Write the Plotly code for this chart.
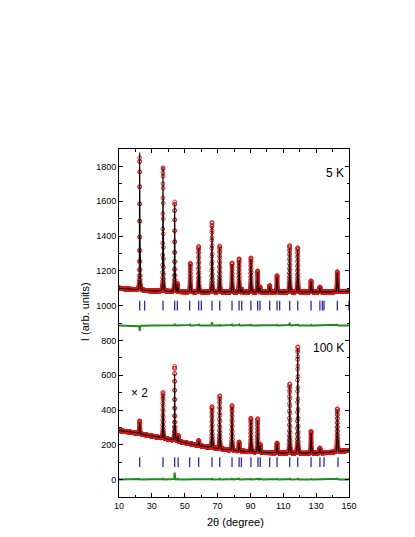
import numpy as np
import plotly.graph_objects as go

# ---------------- data ----------------
# 5 K pattern: peak positions (2theta), observed and calculated peak heights above background
peak_pos_5k = [22.6, 36.8, 43.9, 45.6, 53.4, 58.5, 66.6, 71.3, 78.8, 83.1, 84.7, 90.3, 94.4, 95.8,
               101.7, 106.2, 113.9, 118.8, 126.9, 132.3, 142.9]
obs_h_5k = [760, 712, 515, 45, 165, 262, 400, 265, 168, 192, 18, 197, 122, 30,
            38, 95, 268, 255, 64, 28, 115]
calc_h_5k = [790, 715, 505, 42, 160, 252, 380, 258, 162, 186, 17, 190, 118, 28,
             35, 90, 252, 246, 60, 25, 110]
bg_knots_x_5k = [10, 15, 22, 30, 50, 80, 110, 140, 150]
bg_knots_y_5k = [1100, 1095, 1090, 1084, 1079, 1077, 1077, 1079, 1082]
bragg_5k = [22.6, 25.6, 36.8, 43.9, 45.5, 53.0, 58.5, 60.1, 66.6, 71.3, 78.8, 83.1, 84.7, 90.3,
            94.4, 95.8, 101.7, 106.2, 107.8, 113.9, 118.8, 126.9, 132.3, 133.8, 134.8, 142.9, 150.0]
offset_diff_5k = 885
bragg_level_5k = 1000

# 100 K pattern (shown x 2)
peak_pos_100k = [22.6, 36.8, 43.9, 46.0, 58.5, 66.6, 71.3, 78.8, 83.1, 90.3, 94.4, 95.9,
                 106.2, 113.9, 118.8, 126.9, 132.3, 142.9]
obs_h_100k = [74, 264, 426, 34, 29, 237, 306, 258, 51, 193, 192, 45, 57, 399, 614, 126, 28, 247]
calc_h_100k = [68, 255, 386, 30, 26, 228, 298, 250, 46, 186, 184, 40, 52, 390, 605, 120, 25, 238]
bg_knots_x_100k = [10, 20, 30, 40, 50, 60, 70, 80, 90, 100, 110, 120, 130, 140, 150]
bg_knots_y_100k = [282, 268, 250, 232, 212, 193, 178, 167, 160, 155, 152, 150, 152, 157, 168]
bragg_100k = [22.6, 36.8, 43.9, 46.0, 53.0, 58.5, 66.6, 71.3, 78.8, 83.1, 84.5, 90.3, 94.6, 96.0,
              101.7, 106.2, 113.9, 118.8, 126.9, 132.3, 134.8, 143.3]
offset_diff_100k = 0
bragg_level_100k = 100

x_ticks = [10, 30, 50, 70, 90, 110, 130, 150]
y_ticks = [0, 200, 400, 600, 800, 1000, 1200, 1400, 1600, 1800]

# ---------------- pattern model (Rietveld-style profile) ----------------
tt = np.arange(10.0, 150.0 + 1e-9, 0.03)


def pattern(pos_list, h_list, bgx, bgy):
    y = np.interp(tt, bgx, bgy)
    for p, h in zip(pos_list, h_list):
        w = 0.30 + 0.0008 * (p - 10)
        d = (tt - p) / w
        g = np.exp(-4 * np.log(2) * d ** 2)
        lor = 1.0 / (1.0 + 4 * d ** 2)
        y = y + h * (0.25 * lor + 0.75 * g)
    return y


obs5 = pattern(peak_pos_5k, obs_h_5k, bg_knots_x_5k, bg_knots_y_5k)
calc5 = pattern(peak_pos_5k, calc_h_5k, bg_knots_x_5k, bg_knots_y_5k)
diff5 = obs5 - calc5 + offset_diff_5k

obs100 = pattern(peak_pos_100k, obs_h_100k, bg_knots_x_100k, bg_knots_y_100k)
calc100 = pattern(peak_pos_100k, calc_h_100k, bg_knots_x_100k, bg_knots_y_100k)
diff100 = obs100 - calc100 + offset_diff_100k

RED = "#d01818"
GREEN = "#1f8a1f"
BLUE = "#2c2ca0"

fig = go.Figure()
for obs, calc, diff, bragg, lvl in [
    (obs5, calc5, diff5, bragg_5k, bragg_level_5k),
    (obs100, calc100, diff100, bragg_100k, bragg_level_100k),
]:
    fig.add_trace(go.Scatter(x=tt, y=obs, mode="markers",
                             marker=dict(symbol="circle-open", size=3.8, color=RED,
                                         line=dict(width=0.9, color=RED)),
                             showlegend=False, hoverinfo="skip"))
    fig.add_trace(go.Scatter(x=tt, y=calc, mode="lines",
                             line=dict(color="black", width=1.1),
                             showlegend=False, hoverinfo="skip"))
    fig.add_trace(go.Scatter(x=bragg, y=[lvl] * len(bragg), mode="markers",
                             marker=dict(symbol="line-ns", size=7, color=BLUE,
                                         line=dict(width=1.3, color=BLUE)),
                             showlegend=False, hoverinfo="skip"))
    fig.add_trace(go.Scatter(x=tt, y=diff, mode="lines",
                             line=dict(color=GREEN, width=2),
                             showlegend=False, hoverinfo="skip"))

axis_common = dict(showline=True, linecolor="black", linewidth=1, mirror="ticks",
                   ticks="inside", ticklen=4, tickcolor="black", tickwidth=1,
                   showgrid=False, zeroline=False,
                   tickfont=dict(family="Liberation Sans, Arial", size=9, color="black"))

fig.update_xaxes(range=[10, 150], tickvals=x_ticks,
                 minor=dict(dtick=10, ticks="inside", ticklen=2.5, tickcolor="black"),
                 **axis_common)
fig.update_yaxes(range=[-100, 1900], tickvals=y_ticks,
                 minor=dict(dtick=100, ticks="inside", ticklen=2.5, tickcolor="black"),
                 **axis_common)

fnt = dict(family="Liberation Sans, Arial", color="black")
fig.update_layout(
    width=407, height=529,
    margin=dict(l=111, r=66, t=141, b=40),
    plot_bgcolor="white", paper_bgcolor="white",
    annotations=[
        dict(text="5 K", xref="paper", yref="paper", x=0.985, y=0.931,
             xanchor="right", yanchor="middle", showarrow=False, font=dict(size=12, **fnt)),
        dict(text="100 K", xref="paper", yref="paper", x=0.985, y=0.428,
             xanchor="right", yanchor="middle", showarrow=False, font=dict(size=12, **fnt)),
        dict(text="× 2", xref="paper", yref="paper", x=0.043, y=0.299,
             xanchor="left", yanchor="middle", showarrow=False, font=dict(size=12, **fnt)),
        dict(text="2θ (degree)", xref="paper", yref="paper", x=0.506, y=-0.072,
             xanchor="center", yanchor="middle", showarrow=False, font=dict(size=11, **fnt)),
        dict(text="I (arb. units)", xref="paper", yref="paper", x=-0.148, y=0.534,
             xanchor="center", yanchor="middle", textangle=-90, showarrow=False,
             font=dict(size=11, **fnt)),
    ],
)

fig.write_html("out.html")
